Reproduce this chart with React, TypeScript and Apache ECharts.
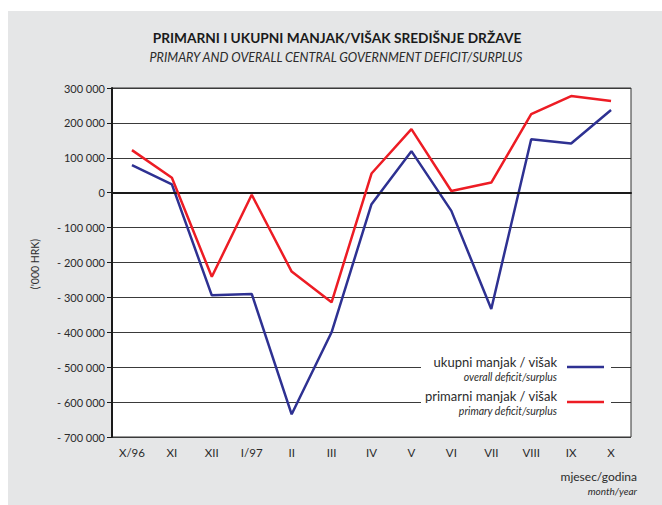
import React, { useEffect, useRef } from "react";
import * as echarts from "echarts";

const categories = ["X/96", "XI", "XII", "I/97", "II", "III", "IV", "V", "VI", "VII", "VIII", "IX", "X"];
const overall = [79000, 24000, -294000, -290000, -635000, -400000, -33000, 119000, -52000, -333000, 153000, 141000, 237000];
const primary = [122000, 43000, -241000, -6000, -226000, -314000, 55000, 182000, 5000, 29000, 225000, 277000, 263000];

const titleHr = "PRIMARNI I UKUPNI MANJAK/VIŠAK SREDIŠNJE DRŽAVE";
const titleEn = "PRIMARY AND OVERALL CENTRAL GOVERNMENT DEFICIT/SURPLUS";
const yName = "('000 HRK)";
const overallHr = "ukupni manjak / višak";
const overallEn = "overall deficit/surplus";
const primaryHr = "primarni manjak / višak";
const primaryEn = "primary deficit/surplus";
const xNameHr = "mjesec/godina";
const xNameEn = "month/year";

const FONT = "Lato, 'Open Sans', sans-serif";
const TXT = "#2b2b2b";
const BLUE = "#2e3192";
const RED = "#ed1c24";

function fmt(v: number): string {
  const a = Math.abs(v);
  const s = String(a).replace(/\B(?=(\d{3})+(?!\d))/g, " ");
  return v < 0 ? "- " + s : s;
}

export default function App() {
  const ref = useRef<HTMLDivElement>(null);
  useEffect(() => {
    if (!ref.current) return;
    const chart = echarts.init(ref.current, undefined, { renderer: "svg" });
    chart.setOption({
      animation: false,
      backgroundColor: "#ffffff",
      textStyle: { fontFamily: FONT },
      grid: {
        left: 112,
        top: 88,
        width: 519,
        height: 349,
        show: true,
        backgroundColor: "#ffffff",
        borderColor: "#333333",
        borderWidth: 1,
      },
      xAxis: {
        type: "category",
        data: categories,
        boundaryGap: true,
        axisLine: { show: true, lineStyle: { color: "#1a1a1a", width: 2 } },
        axisTick: { show: false },
        axisLabel: { color: TXT, fontSize: 11.5, margin: 9, fontFamily: FONT },
        splitLine: { show: false },
      },
      yAxis: {
        type: "value",
        min: -700000,
        max: 300000,
        interval: 100000,
        axisLine: { show: true, onZero: false, lineStyle: { color: "#1a1a1a", width: 2 } },
        axisTick: { show: true, length: 5, lineStyle: { color: "#1a1a1a", width: 1 } },
        axisLabel: { color: TXT, fontSize: 11, margin: 7, fontFamily: FONT, formatter: (v: number) => fmt(v) },
        splitLine: { show: true, lineStyle: { color: "#3a3a3a", width: 1 } },
      },
      series: [
        {
          type: "line",
          name: overallHr,
          data: overall,
          symbol: "none",
          z: 4,
          lineStyle: { color: BLUE, width: 2.5 },
          markLine: {
            silent: true,
            symbol: "none",
            label: { show: false },
            lineStyle: { color: "#1a1a1a", width: 2, type: "solid" },
            data: [{ yAxis: 0 }],
          },
        },
        {
          type: "line",
          name: primaryHr,
          data: primary,
          symbol: "none",
          z: 5,
          lineStyle: { color: RED, width: 2.5 },
        },
      ],
      graphic: [
        {
          type: "rect",
          z: -10,
          silent: true,
          shape: { x: 8, y: 11, width: 654, height: 494 },
          style: { fill: "#e5e6e7" },
        },
        {
          type: "text",
          x: 337,
          y: 37,
          style: { text: titleHr, font: `bold 13.7px ${FONT}`, fill: "#1a1a1a", align: "center", verticalAlign: "middle" },
        },
        {
          type: "text",
          x: 336,
          y: 57,
          style: { text: titleEn, font: `italic 12.6px ${FONT}`, fill: TXT, align: "center", verticalAlign: "middle" },
        },
        {
          type: "text",
          x: 35,
          y: 264,
          rotation: Math.PI / 2,
          style: { text: yName, font: `10.5px ${FONT}`, fill: TXT, align: "center", verticalAlign: "middle" },
        },
        {
          type: "rect",
          z: 10,
          shape: { x: 421, y: 355, width: 190, height: 62 },
          style: { fill: "#ffffff" },
        },
        {
          type: "text",
          z: 11,
          x: 557,
          y: 362,
          style: { text: overallHr, font: `13px ${FONT}`, fill: TXT, align: "right", verticalAlign: "middle" },
        },
        {
          type: "text",
          z: 11,
          x: 557,
          y: 377,
          style: { text: overallEn, font: `italic 10.5px ${FONT}`, fill: TXT, align: "right", verticalAlign: "middle" },
        },
        {
          type: "text",
          z: 11,
          x: 557,
          y: 396,
          style: { text: primaryHr, font: `13px ${FONT}`, fill: TXT, align: "right", verticalAlign: "middle" },
        },
        {
          type: "text",
          z: 11,
          x: 557,
          y: 411,
          style: { text: primaryEn, font: `italic 10.5px ${FONT}`, fill: TXT, align: "right", verticalAlign: "middle" },
        },
        {
          type: "line",
          z: 11,
          shape: { x1: 567, y1: 367, x2: 604, y2: 367 },
          style: { stroke: BLUE, lineWidth: 2.5 },
        },
        {
          type: "line",
          z: 11,
          shape: { x1: 567, y1: 402, x2: 604, y2: 402 },
          style: { stroke: RED, lineWidth: 2.5 },
        },
        {
          type: "text",
          x: 637,
          y: 476,
          style: { text: xNameHr, font: `12px ${FONT}`, fill: TXT, align: "right", verticalAlign: "middle" },
        },
        {
          type: "text",
          x: 637,
          y: 491,
          style: { text: xNameEn, font: `italic 10px ${FONT}`, fill: TXT, align: "right", verticalAlign: "middle" },
        },
      ],
    });
    return () => chart.dispose();
  }, []);
  return <div ref={ref} style={{ position: "absolute", left: 0, top: 0, width: 662, height: 505 }} />;
}
